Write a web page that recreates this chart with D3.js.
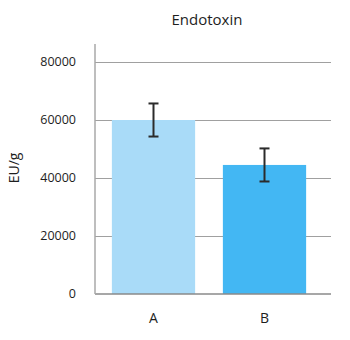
<!DOCTYPE html>
<html><head><meta charset="utf-8">
<script src="https://cdn.jsdelivr.net/npm/d3@7"></script>
<style>body{margin:0;background:#fff;} text{font-family:"Open Sans",sans-serif;fill:#1e1e1e;}</style>
</head><body>
<svg id="c" width="350" height="340"></svg>
<script>
const categories = ["A", "B"];
const values = [60000, 44500];
const errors = [5700, 5700];
const colors = ["#a9dbf8", "#43b7f3"];
const yTicks = [0, 20000, 40000, 60000, 80000];

(function () {
const svg = d3.select("#c");
const mL = 95, mR = 331, mT = 44, mB = 294;
const y = d3.scaleLinear().domain([0, 80000 * (mB - mT) / (mB - 62)]).range([mB, mT]);
const x = d3.scaleBand().domain(categories).range([mL, 323]).paddingInner(0.25).paddingOuter(0.152);

svg.append("g").selectAll("line").data(yTicks.filter(d => d > 0)).join("line")
  .attr("x1", mL).attr("x2", mR)
  .attr("y1", d => Math.round(y(d)) + 0.5).attr("y2", d => Math.round(y(d)) + 0.5)
  .attr("stroke", "#a0a0a0").attr("stroke-width", 1.2);

svg.append("g").selectAll("rect").data(categories).join("rect")
  .attr("x", d => x(d)).attr("width", x.bandwidth())
  .attr("y", (d, i) => y(values[i])).attr("height", (d, i) => y(0) - y(values[i]))
  .attr("fill", (d, i) => colors[i]);

svg.append("line").attr("x1", mL).attr("x2", mR).attr("y1", y(0)).attr("y2", y(0))
  .attr("stroke", "#8a8a8a").attr("stroke-width", 1.5);
svg.append("line").attr("x1", mL).attr("x2", mL).attr("y1", mT).attr("y2", y(0))
  .attr("stroke", "#a8a8a8").attr("stroke-width", 1.5);

const eb = svg.append("g").attr("stroke", "#2b2b2b").attr("stroke-width", 2);
categories.forEach((c, i) => {
  const cx = x(c) + x.bandwidth() / 2;
  const hi = y(values[i] + errors[i]), lo = y(values[i] - errors[i]);
  eb.append("line").attr("x1", cx).attr("x2", cx).attr("y1", hi).attr("y2", lo);
  eb.append("line").attr("x1", cx - 5).attr("x2", cx + 5).attr("y1", hi).attr("y2", hi);
  eb.append("line").attr("x1", cx - 5).attr("x2", cx + 5).attr("y1", lo).attr("y2", lo);
});

svg.append("g").selectAll("text").data(yTicks).join("text")
  .attr("x", 76).attr("y", d => y(d)).attr("dy", "0.35em")
  .attr("text-anchor", "end").attr("font-size", 12.5).text(d => d);

svg.append("g").selectAll("text").data(categories).join("text")
  .attr("x", d => x(d) + x.bandwidth() / 2).attr("y", 323)
  .attr("text-anchor", "middle").attr("font-size", 14).text(d => d);

svg.append("text").attr("x", 207).attr("y", 25).attr("text-anchor", "middle")
  .attr("font-size", 15).text("Endotoxin");

svg.append("text").attr("transform", "translate(19,168) rotate(-90)")
  .attr("text-anchor", "middle").attr("font-size", 14).text("EU/g");
})();
</script>
</body></html>
